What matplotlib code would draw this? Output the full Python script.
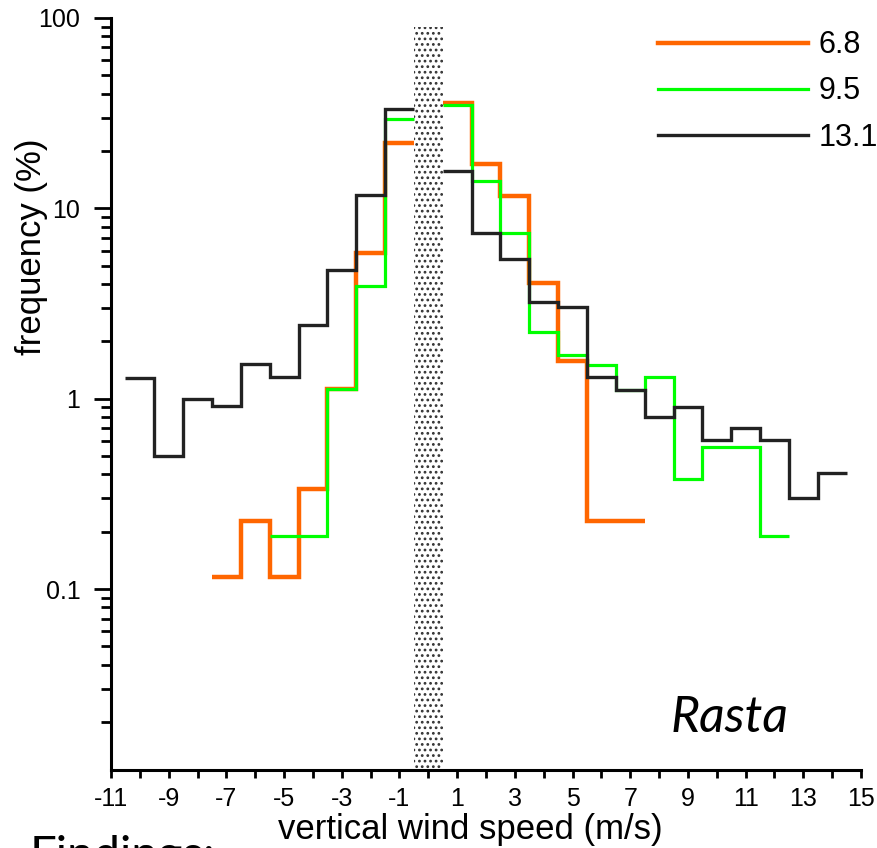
import matplotlib
matplotlib.use("Agg")
import matplotlib.pyplot as plt
import numpy as np
from matplotlib.ticker import FixedLocator, LogLocator, NullFormatter, FuncFormatter

plt.rcParams['font.family'] = ['Liberation Sans', 'DejaVu Sans']
plt.rcParams['axes.unicode_minus'] = False
plt.rcParams['hatch.linewidth'] = 1.2

# bin edges (1 m/s bins centred on integers), bin 0 masked by the grey bar
edges_black = np.arange(-10.5, 15.0, 1.0)      # -10 .. 14
edges_green = np.arange(-5.5, 13.0, 1.0)       # -5 .. 12
edges_orange = np.arange(-7.5, 8.0, 1.0)       # -7 .. 7

freq_black = [1.29, 0.50, 1.0, 0.915, 1.53, 1.30, 2.43, 4.77, 11.8, 33.3, np.nan,
              15.7, 7.38, 5.39, 3.24, 3.02, 1.30, 1.105, 0.80, 0.908, 0.604,
              0.705, 0.604, 0.302, 0.405]
freq_green = [0.189, 0.189, 1.12, 3.93, 29.5, np.nan,
              35.1, 13.9, 7.44, 2.24, 1.69, 1.50, 1.105, 1.30, 0.377, 0.557,
              0.557, 0.189]
freq_orange = [0.115, 0.228, 0.115, 0.337, 1.12, 5.86, 22.1, np.nan,
               35.8, 17.1, 11.6, 4.03, 1.58, 0.228, 0.228]

labels = ["6.8", "9.5", "13.1"]
colors = ["#ff6600", "#00ff00", "#222222"]
widths = [3.2, 2.3, 2.4]

fig = plt.figure(figsize=(8.77, 8.48), dpi=100)
ax = fig.add_axes([111/877, 78/848, 750/877, 752/848])

# grey stippled bar where |w| < 0.5
ax.fill_between([-0.5, 0.5], 0.0112, 90, facecolor='white', edgecolor='#333333',
                hatch='...', linewidth=0, zorder=1)

series = [(edges_orange, freq_orange), (edges_green, freq_green), (edges_black, freq_black)]
for (e, v), lab, c, w in zip(series, labels, colors, widths):
    ax.stairs(np.array(v), e, baseline=None, color=c, linewidth=w, label=lab, zorder=3)

ax.set_yscale('log')
ax.set_ylim(0.0112, 100)
ax.set_xlim(-11, 15)

ax.xaxis.set_major_locator(FixedLocator(np.arange(-11, 16, 2)))
ax.xaxis.set_minor_locator(FixedLocator(np.arange(-10, 15, 2)))
ax.yaxis.set_major_locator(FixedLocator([0.1, 1, 10, 100]))
ax.yaxis.set_major_formatter(FuncFormatter(lambda y, p: f"{y:g}"))
ax.yaxis.set_minor_locator(LogLocator(base=10, subs=np.arange(2, 10)))
ax.yaxis.set_minor_formatter(NullFormatter())

ax.tick_params(axis='x', which='both', direction='out', length=6, width=2, labelsize=18, pad=6)
ax.tick_params(axis='y', which='major', direction='out', length=12, width=2, labelsize=18, pad=10)
ax.tick_params(axis='y', which='minor', direction='out', length=7, width=2)

for s in ['top', 'right']:
    ax.spines[s].set_visible(False)
for s in ['left', 'bottom']:
    ax.spines[s].set_linewidth(2.2)

fig.text(32/877, 1 - 247/848, "frequency (%)", rotation=90, ha='center', va='center', fontsize=25)
fig.text(470/877, 1 - 830/848, "vertical wind speed (m/s)", ha='center', va='center', fontsize=25)

ax.legend(loc='upper left', bbox_to_anchor=(535/750, 1.0), frameon=False, fontsize=22,
          handlelength=4.9, handletextpad=0.35, labelspacing=0.53, borderaxespad=0)

fig.text(729/877, 1 - 718/848, "Rasta", ha='center', va='center', fontsize=36,
         style='italic', family=['Lato', 'DejaVu Sans'])
fig.text(30/877, 1 - 835/848, "Findings:", ha='left', va='top', fontsize=34,
         family=['Lato', 'DejaVu Sans'])

fig.savefig("out.png", dpi=100)
